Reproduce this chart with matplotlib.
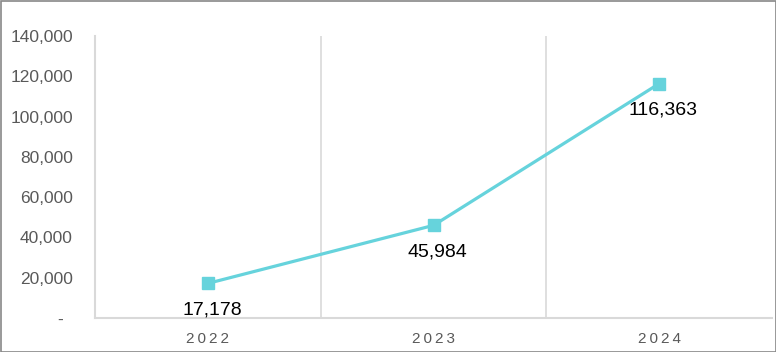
import matplotlib
matplotlib.use("Agg")
import matplotlib.pyplot as plt
from matplotlib.patches import Rectangle

years = ["2022", "2023", "2024"]
values = [17178, 45984, 116363]
yticks = [0, 20000, 40000, 60000, 80000, 100000, 120000, 140000]

plt.rcParams['font.family'] = ['Liberation Sans', 'DejaVu Sans']

fig = plt.figure(figsize=(7.76, 3.52), dpi=100)
ax = fig.add_axes([95/776, 1-318/352, (772-95)/776, (318-36)/352])

x = list(range(len(years)))
color = "#66D3DC"
ax.plot(x, values, color=color, lw=2.3, marker="s", markersize=8.5, zorder=3)

for xi, v in zip(x, values):
    ax.annotate(f"{v:,}", (xi, v), xytext=(3, -13), textcoords="offset points",
                ha="center", va="top", fontsize=14, color="black")

ax.set_xlim(-0.5, len(years) - 0.5)
ax.set_ylim(0, 140000)
ax.set_yticks(yticks)
ax.set_yticklabels([f"{t:,}" if t else "-\u2002" for t in yticks])
ax.set_xticks(x)
ax.set_xticklabels(["\u2009".join(y) for y in years])
ax.tick_params(axis="y", length=0, pad=16, labelsize=12.5, labelcolor="#595959")
ax.tick_params(axis="x", length=0, pad=10, labelsize=11, labelcolor="#595959")

for b in [0.5, 1.5]:
    ax.axvline(b, color="#d9d9d9", lw=1.2, zorder=1)

for s in ["top", "right"]:
    ax.spines[s].set_visible(False)
for s in ["left", "bottom"]:
    ax.spines[s].set_color("#d9d9d9")
    ax.spines[s].set_linewidth(1.5)

fig.patches.append(Rectangle((0.5/776, 0.5/352), 775/776, 351/352, transform=fig.transFigure,
                             fill=False, edgecolor="#888888", lw=1.2))

fig.savefig("out.png", dpi=100)
